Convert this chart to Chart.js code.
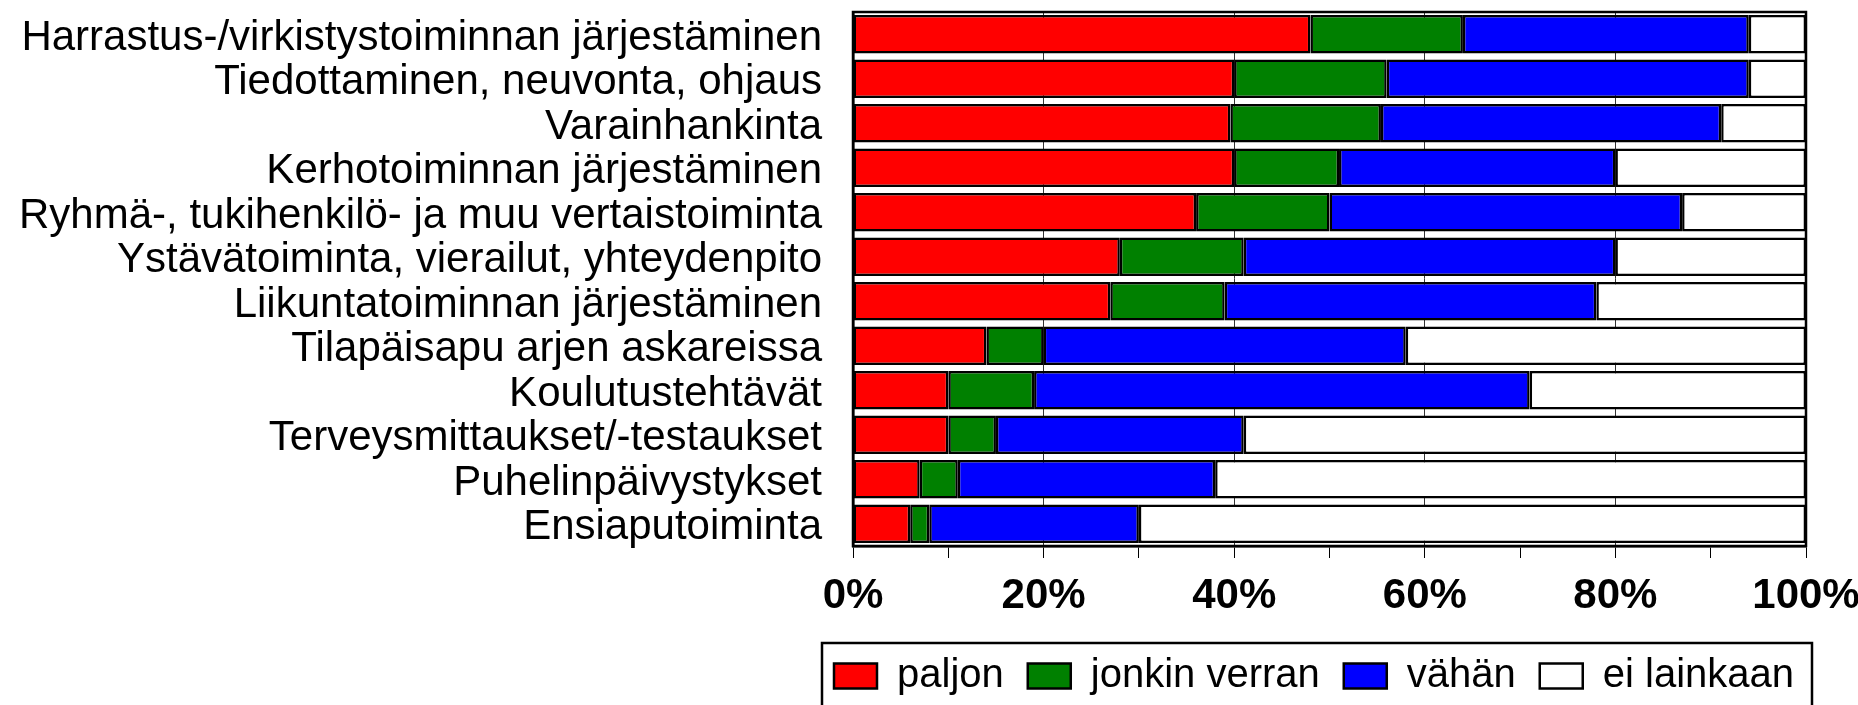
<!DOCTYPE html>
<html><head><meta charset="utf-8">
<script src="https://cdn.jsdelivr.net/npm/chart.js@4/dist/chart.umd.min.js"></script>
<style>html,body{margin:0;padding:0;background:#fff;}#wrap{width:1858px;height:705px;}</style>
</head><body><div id="wrap"><canvas id="c" width="1858" height="705"></canvas></div>
<script>
const categories = [
  'Harrastus-/virkistystoiminnan järjestäminen',
  'Tiedottaminen, neuvonta, ohjaus',
  'Varainhankinta',
  'Kerhotoiminnan järjestäminen',
  'Ryhmä-, tukihenkilö- ja muu vertaistoiminta',
  'Ystävätoiminta, vierailut, yhteydenpito',
  'Liikuntatoiminnan järjestäminen',
  'Tilapäisapu arjen askareissa',
  'Koulutustehtävät',
  'Terveysmittaukset/-testaukset',
  'Puhelinpäivystykset',
  'Ensiaputoiminta'
];
const paljon       = [48, 40, 39.6, 40, 36, 28, 27, 14, 10, 10, 7, 6];
const jonkinVerran = [16, 16, 15.8, 11, 14, 13, 12, 6, 9, 5, 4, 2];
const vahan        = [30, 38, 35.7, 29, 37, 39, 39, 38, 52, 26, 27, 22];
const eiLainkaan   = [6, 6, 8.9, 20, 13, 20, 22, 42, 29, 59, 62, 70];
const seriesNames  = ['paljon', 'jonkin verran', 'vähän', 'ei lainkaan'];
const tickLabels   = {0: '0%', 20: '20%', 40: '40%', 60: '60%', 80: '80%', 100: '100%'};

const FONT = '"Liberation Sans", Arial, sans-serif';

const framePlugin = {
  id: 'frame',
  beforeLayout(chart) {
    const lg = chart.legend;
    if (lg && !lg._patchedFit) {
      const orig = lg.fit;
      lg.fit = function () { orig.call(this); this.height = 88; };
      lg._patchedFit = true;
    }
  },
  afterLayout(chart) {
    const lg = chart.legend;
    if (lg) { lg.left = 810; lg.right = 1858; lg.top = 632; lg.bottom = 720; }
  },
  afterDatasetsDraw(chart) {
    const a = chart.chartArea, ctx = chart.ctx;
    ctx.save();
    ctx.strokeStyle = '#000'; ctx.lineWidth = 2.5;
    ctx.strokeRect(a.left, a.top, a.right - a.left, a.bottom - a.top);
    ctx.restore();
  },
  afterDraw(chart) {
    const lg = chart.legend, ctx = chart.ctx;
    const hb = lg.legendHitBoxes;
    if (!hb || !hb.length) return;
    const last = hb[hb.length - 1];
    const l = hb[0].left - 12;
    const r = Math.min(last.left + last.width + 18, 1856);
    const t = hb[0].top - 13;
    ctx.save();
    ctx.strokeStyle = '#000'; ctx.lineWidth = 2.5;
    ctx.strokeRect(l, t, r - l, 100);
    ctx.restore();
  }
};

const colors = ['#ff0000', '#008000', '#0000ff', '#ffffff'];
const values = [paljon, jonkinVerran, vahan, eiLainkaan];

new Chart(document.getElementById('c'), {
  type: 'bar',
  data: {
    labels: categories,
    datasets: seriesNames.map((n, i) => ({
      label: n,
      data: values[i],
      backgroundColor: colors[i],
      borderColor: '#000',
      borderWidth: 2.5,
      borderSkipped: false,
      barPercentage: 0.86,
      categoryPercentage: 1.0
    }))
  },
  options: {
    indexAxis: 'y',
    responsive: false,
    animation: false,
    devicePixelRatio: 1,
    layout: { padding: { top: 12, left: 0, right: 0, bottom: 0 } },
    plugins: {
      tooltip: { enabled: false },
      legend: {
        position: 'bottom',
        align: 'start',
        labels: {
          boxWidth: 43,
          boxHeight: 25,
          padding: 24,
          color: '#000',
          font: { family: FONT, size: 40 }
        }
      }
    },
    scales: {
      x: {
        stacked: true,
        min: 0, max: 100,
        afterFit(s) { s.height = 71; s.paddingRight = 52; },
        border: { display: true, color: '#000', width: 2.5 },
        grid: {
          display: true,
          drawTicks: true,
          tickLength: 12,
          tickColor: '#000',
          tickWidth: 1,
          lineWidth: 1,
          color: (ctx) => (ctx.tick && ctx.tick.value % 20 === 0) ? '#333' : 'rgba(0,0,0,0)'
        },
        ticks: {
          stepSize: 10,
          autoSkip: false,
          maxRotation: 0,
          padding: 13,
          color: '#000',
          font: { family: FONT, size: 42, weight: 'bold' },
          callback: (v) => (tickLabels[v] !== undefined ? tickLabels[v] : '')
        }
      },
      y: {
        stacked: true,
        afterFit(s) { s.width = 853; s.paddingTop = 0; s.paddingBottom = 0; },
        border: { display: true, color: '#000', width: 2.5 },
        grid: { display: false, drawTicks: false },
        ticks: {
          autoSkip: false,
          padding: 31,
          labelOffset: 4,
          color: '#000',
          font: { family: FONT, size: 42 }
        }
      }
    }
  },
  plugins: [framePlugin]
});
</script>
</body></html>
